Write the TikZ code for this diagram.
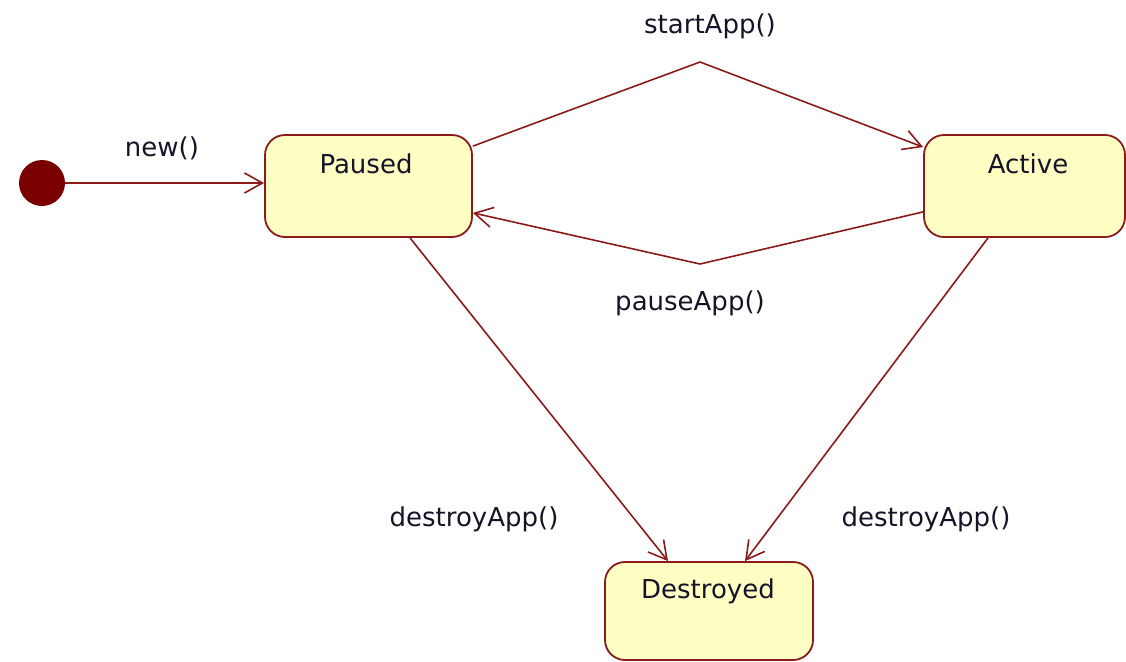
\documentclass[tikz,border=0pt]{standalone}
\usepackage{fontspec}
\setmainfont{DejaVu Sans}
\usetikzlibrary{arrows.meta}
\definecolor{umlred}{HTML}{8B1A1A}
\definecolor{umldot}{HTML}{7A0000}
\definecolor{umlfill}{HTML}{FFFFC4}
\definecolor{umltext}{HTML}{141428}
\tikzset{
  statebox/.style={draw=umlred, line width=1.8pt, fill=umlfill, rounded corners=20pt, minimum width=207pt, inner sep=0pt},
  lbl/.style={text=umltext, font=\fontsize{26}{30}\selectfont, inner sep=0pt},
  trans/.style={draw=umlred, line width=1.6pt, -{Straight Barb[length=18pt,width=20pt,line width=1.6pt]}},
}
\begin{document}
\begin{tikzpicture}[x=1pt,y=-1pt]
\useasboundingbox (0,0) rectangle (1126,661);
% states
\node[statebox, minimum height=102pt] (paused) at (368.5,186) {};
\node[statebox, minimum width=201pt, minimum height=102pt] (active) at (1024.5,186) {};
\node[statebox, minimum width=208pt, minimum height=98pt] (destroyed) at (709,611) {};
\node[lbl] (pausedT) at (366,164) {Paused};
\node[lbl] (activeT) at (1028,164) {Active};
\node[lbl] (destroyedT) at (708,591) {Destroyed};
% initial state
\node[circle, fill=umldot, minimum size=46pt, inner sep=0pt] (init) at (42,183) {};
% bend points
\coordinate (sa) at (700,62);
\coordinate (pa) at (700,264);
% transitions
\draw[trans] (init.east) -- (init.east -| paused.west);
\draw[trans] ([yshift=-12pt]paused.north east) -- (sa) -- ([yshift=-13pt]active.north west);
\draw[trans] ([yshift=26pt]active.south west) -- (pa) -- ([yshift=25pt]paused.south east);
\draw[trans] ([xshift=41.5pt]paused.south) -- ([xshift=-41pt]destroyed.north);
\draw[trans] ([xshift=-36.5pt]active.south) -- ([xshift=36pt]destroyed.north);
% labels
\node[lbl] (newL) at (162,148) {new()};
\node[lbl] (startL) at (710,26) {startApp()};
\node[lbl] (pauseL) at (690,303) {pauseApp()};
\node[lbl] (destroyL1) at (474,519) {destroyApp()};
\node[lbl] (destroyL2) at (926,519) {destroyApp()};
\end{tikzpicture}
\end{document}
